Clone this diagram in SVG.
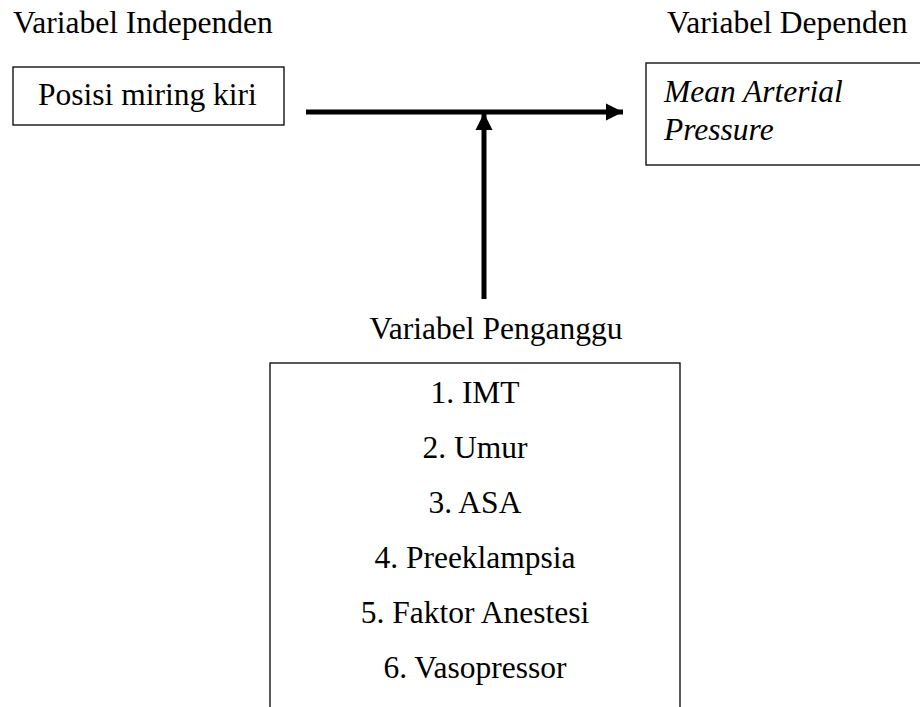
<svg xmlns="http://www.w3.org/2000/svg" width="920" height="707" viewBox="0 0 920 707">
<style>
.t{font-family:'Liberation Serif',Tinos,'Times New Roman',Times,'DejaVu Serif',serif;font-size:31.5px;fill:#000}
.i{font-style:italic}
.box{fill:#fff;stroke:#000;stroke-width:1.3}
.conn{stroke:#000;stroke-width:5;fill:none}
</style>
<defs>
<marker id="ah" markerUnits="userSpaceOnUse" markerWidth="18" markerHeight="18" viewBox="0 0 18 18" refX="17" refY="9" orient="auto">
<path d="M0,0.5 L17,9 L0,17.5 Z" fill="#000"/>
</marker>
</defs>
<rect width="920" height="707" fill="#fff"/>
<text class="t" x="13" y="33">Variabel Independen</text>
<text class="t" x="667" y="33">Variabel Dependen</text>
<g id="independen">
<rect class="box" x="13" y="67" width="271" height="58"/>
<text class="t" x="38" y="105">Posisi miring kiri</text>
</g>
<g id="dependen">
<rect class="box" x="646" y="63" width="280" height="102"/>
<text class="t i" x="664" y="102">Mean Arterial</text>
<text class="t i" x="664" y="140">Pressure</text>
</g>
<g id="penganggu">
<text class="t" x="496" y="339" text-anchor="middle">Variabel Penganggu</text>
<rect class="box" x="270" y="363" width="410" height="360"/>
<g text-anchor="middle">
<text class="t" x="475" y="403">1. IMT</text>
<text class="t" x="475" y="458">2. Umur</text>
<text class="t" x="475" y="513">3. ASA</text>
<text class="t" x="475" y="568">4. Preeklampsia</text>
<text class="t" x="475" y="623">5. Faktor Anestesi</text>
<text class="t" x="475" y="678">6. Vasopressor</text>
</g>
</g>
<g id="connectors">
<line class="conn" x1="306" y1="112" x2="623" y2="112" marker-end="url(#ah)"/>
<line class="conn" x1="484" y1="299" x2="484" y2="113" marker-end="url(#ah)"/>
</g>
</svg>
